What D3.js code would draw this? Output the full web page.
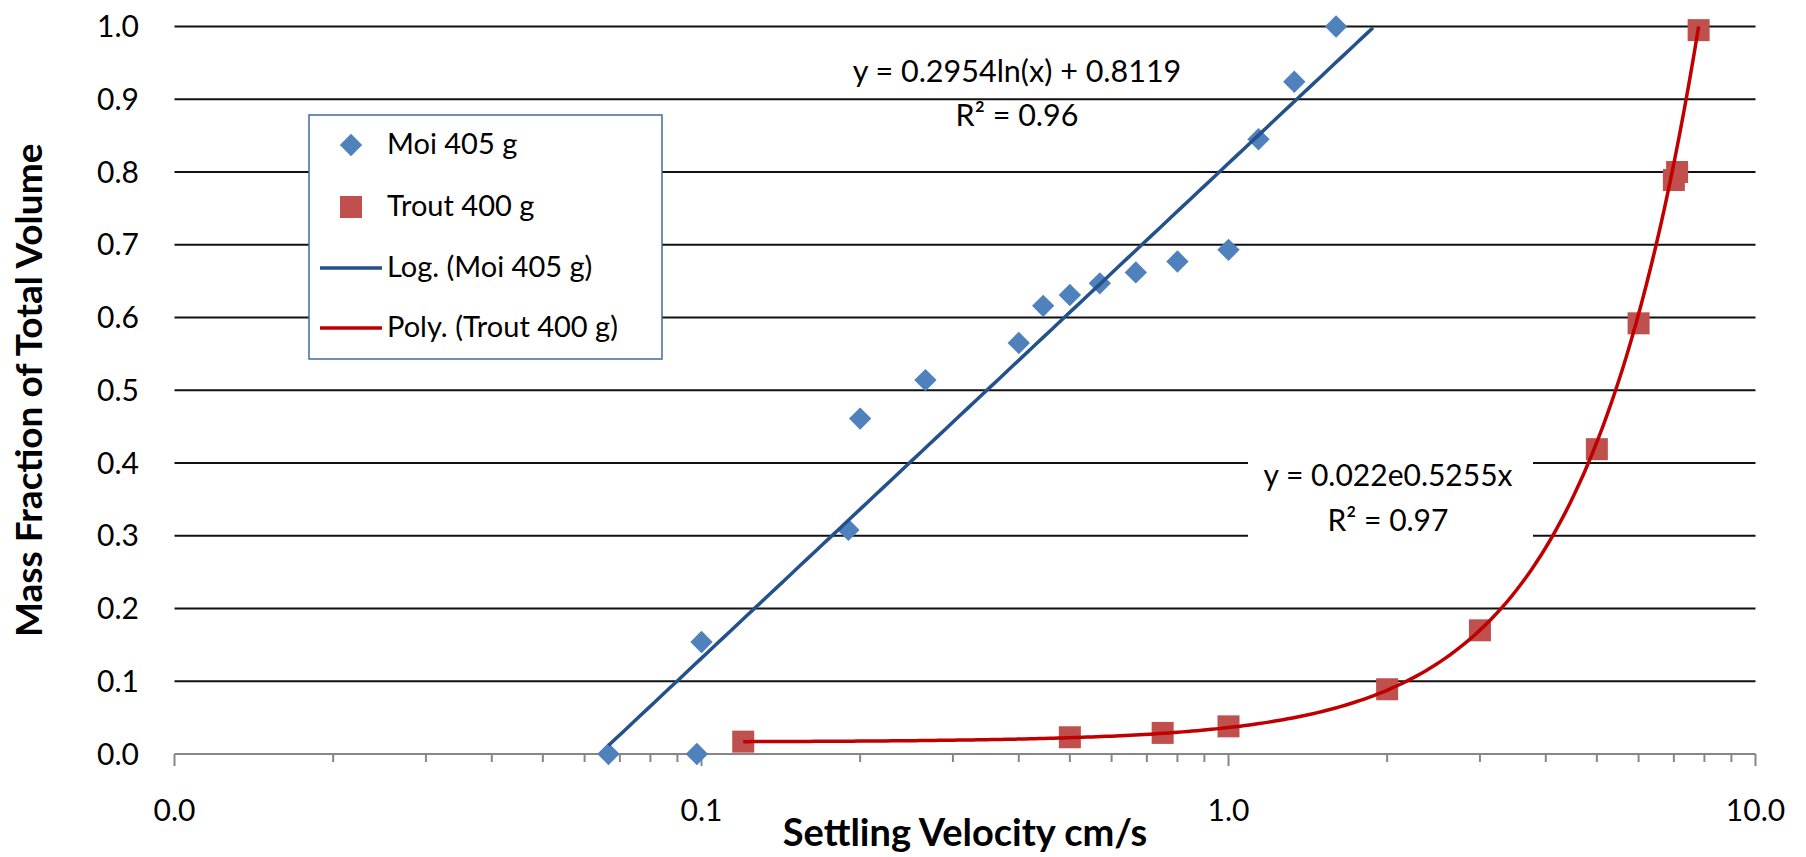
<!DOCTYPE html>
<html>
<head>
<meta charset="utf-8">
<script src="https://d3js.org/d3.v7.min.js"></script>
<style>
  body { margin: 0; background: #fff; }
  text { font-family: Lato, "Open Sans", sans-serif; fill: #000; }
</style>
</head>
<body>
<div id="chart"></div>
<script>
// settling velocity (cm/s) vs mass fraction
const moiVelocity = [0.0666, 0.098, 0.1, 0.19, 0.2, 0.266, 0.4, 0.445, 0.5, 0.57, 0.667, 0.8, 1.0, 1.14, 1.333, 1.6];
const moiFraction = [0, 0, 0.154, 0.308, 0.461, 0.514, 0.565, 0.616, 0.631, 0.647, 0.662, 0.677, 0.693, 0.845, 0.924, 1.0];

const troutVelocity = [0.12, 0.5, 0.75, 1.0, 2.0, 3.0, 5.0, 6.0, 7.0, 7.1, 7.8];
const troutFraction = [0.017, 0.023, 0.029, 0.038, 0.089, 0.17, 0.419, 0.592, 0.789, 0.8, 0.995];

// trendlines
const moiLogCoef = [0.2954, 0.8119];          // y = a ln(x) + b
const moiTrendRange = [0.0666, 1.88];
const troutPolyCoef = [0.0162, 0.0046, 0.01558]; // y = c0 + c1 x + c2 x^2 (curve as drawn)
const troutTrendRange = [0.12, 7.8];

const xTicks = [0.01, 0.1, 1, 10];
const xTickLabels = ["0.0", "0.1", "1.0", "10.0"];
const yTicks = [0, 0.1, 0.2, 0.3, 0.4, 0.5, 0.6, 0.7, 0.8, 0.9, 1.0];

const seriesNames = ["Moi 405 g", "Trout 400 g", "Log. (Moi 405 g)", "Poly. (Trout 400 g)"];
const moiEquation = ["y = 0.2954ln(x) + 0.8119", "R² = 0.96"];
const troutEquation = ["y = 0.022e0.5255x", "R² = 0.97"];

const W = 1806, H = 857;
const margin = { top: 26.5, right: 50.5, bottom: 103, left: 174.5 };

const svg = d3.select("#chart").append("svg")
  .attr("width", W).attr("height", H);

const x = d3.scaleLog().domain([0.01, 10]).range([margin.left, W - margin.right]);
const y = d3.scaleLinear().domain([0, 1]).range([H - margin.bottom, margin.top]);

// gridlines
svg.append("g")
  .selectAll("line")
  .data(yTicks.slice(1))
  .join("line")
  .attr("x1", x(0.01)).attr("x2", x(10))
  .attr("y1", (d) => y(d)).attr("y2", (d) => y(d))
  .attr("stroke", "#111")
  .attr("stroke-width", 2);

// y tick labels
svg.append("g")
  .selectAll("text")
  .data(yTicks)
  .join("text")
  .attr("x", 139)
  .attr("y", (d) => y(d) + 10.5)
  .attr("text-anchor", "end")
  .style("font-size", "30px")
  .text((d) => d3.format(".1f")(d));

// x axis (log, with minor ticks)
const minorTicks = [];
xTicks.slice(0, -1).forEach((t) => {
  for (let k = 2; k <= 9; k++) minorTicks.push(t * k);
});

const xAxis = svg.append("g").attr("transform", `translate(0,${y(0)})`);
xAxis.append("line")
  .attr("x1", x(0.01)).attr("x2", x(10))
  .attr("stroke", "#868686").attr("stroke-width", 2);
xAxis.selectAll(".minor")
  .data(minorTicks)
  .join("line")
  .attr("class", "minor")
  .attr("x1", (d) => x(d)).attr("x2", (d) => x(d))
  .attr("y1", 0).attr("y2", 8)
  .attr("stroke", "#868686").attr("stroke-width", 2);
xAxis.selectAll(".major")
  .data(xTicks)
  .join("line")
  .attr("class", "major")
  .attr("x1", (d) => x(d)).attr("x2", (d) => x(d))
  .attr("y1", 0).attr("y2", 12)
  .attr("stroke", "#868686").attr("stroke-width", 2);
xAxis.selectAll("text")
  .data(xTicks)
  .join("text")
  .attr("x", (d) => x(d))
  .attr("y", 67)
  .attr("text-anchor", "middle")
  .style("font-size", "30px")
  .text((d, i) => xTickLabels[i]);

// axis titles
svg.append("text")
  .attr("x", (x(0.01) + x(10)) / 2)
  .attr("y", 846)
  .attr("text-anchor", "middle")
  .style("font-size", "38px")
  .style("font-weight", "bold")
  .text("Settling Velocity cm/s");

svg.append("text")
  .attr("transform", `translate(42,${(y(0) + y(1)) / 2}) rotate(-90)`)
  .attr("text-anchor", "middle")
  .style("font-size", "37px")
  .style("font-weight", "bold")
  .text("Mass Fraction of Total Volume");

// trout equation label (white box hides gridlines)
svg.append("rect")
  .attr("x", 1248).attr("y", 452)
  .attr("width", 285).attr("height", 92)
  .attr("fill", "#fff");
svg.append("g")
  .selectAll("text")
  .data(troutEquation)
  .join("text")
  .attr("x", 1388)
  .attr("y", (d, i) => 486 + i * 45)
  .attr("text-anchor", "middle")
  .style("font-size", "30px")
  .text((d) => d);

svg.append("g")
  .selectAll("text")
  .data(moiEquation)
  .join("text")
  .attr("x", 1017)
  .attr("y", (d, i) => 82 + i * 44)
  .attr("text-anchor", "middle")
  .style("font-size", "30.5px")
  .text((d) => d);

// markers
const moiData = moiVelocity.map((v, i) => ({ v, f: moiFraction[i] }));
const troutData = troutVelocity.map((v, i) => ({ v, f: troutFraction[i] }));

const diamond = d3.symbol(d3.symbolSquare, 250);
svg.append("g")
  .selectAll("path")
  .data(moiData)
  .join("path")
  .attr("d", diamond)
  .attr("transform", (d) => `translate(${x(d.v)},${y(d.f)}) rotate(45)`)
  .attr("fill", "#4F81BD");

svg.append("g")
  .selectAll("rect")
  .data(troutData)
  .join("rect")
  .attr("x", (d) => x(d.v) - 11)
  .attr("y", (d) => y(d.f) - 11)
  .attr("width", 22).attr("height", 22)
  .attr("fill", "#C0504D");

// trendlines, sampled evenly on the log axis
function sampleLog(range, n) {
  const l0 = Math.log10(range[0]), l1 = Math.log10(range[1]);
  return d3.range(n + 1).map((i) => Math.pow(10, l0 + (l1 - l0) * i / n));
}
const line = d3.line().x((d) => x(d[0])).y((d) => y(d[1]));

const moiTrend = sampleLog(moiTrendRange, 100)
  .map((v) => [v, moiLogCoef[0] * Math.log(v) + moiLogCoef[1]]);
const troutTrend = sampleLog(troutTrendRange, 200)
  .map((v) => [v, troutPolyCoef[0] + troutPolyCoef[1] * v + troutPolyCoef[2] * v * v]);

svg.append("path")
  .attr("d", line(moiTrend))
  .attr("fill", "none")
  .attr("stroke", "#24508C")
  .attr("stroke-width", 3.5);

svg.append("path")
  .attr("d", line(troutTrend))
  .attr("fill", "none")
  .attr("stroke", "#C00000")
  .attr("stroke-width", 3.5);

// legend
const legend = svg.append("g");
legend.append("rect")
  .attr("x", 309).attr("y", 115)
  .attr("width", 353).attr("height", 244)
  .attr("fill", "#fff")
  .attr("stroke", "#41699E")
  .attr("stroke-width", 1.5);

const rowY = [145, 207, 268, 328];
legend.append("path")
  .attr("d", diamond)
  .attr("transform", `translate(351,${rowY[0]}) rotate(45)`)
  .attr("fill", "#4F81BD");
legend.append("rect")
  .attr("x", 340).attr("y", rowY[1] - 11)
  .attr("width", 22).attr("height", 22)
  .attr("fill", "#C0504D");
legend.append("line")
  .attr("x1", 320).attr("x2", 382)
  .attr("y1", rowY[2]).attr("y2", rowY[2])
  .attr("stroke", "#24508C").attr("stroke-width", 3.5);
legend.append("line")
  .attr("x1", 320).attr("x2", 382)
  .attr("y1", rowY[3]).attr("y2", rowY[3])
  .attr("stroke", "#C00000").attr("stroke-width", 3.5);

legend.selectAll("text")
  .data(seriesNames)
  .join("text")
  .attr("x", 387)
  .attr("y", (d, i) => rowY[i] + 9)
  .style("font-size", "29px")
  .text((d) => d);
</script>
</body>
</html>
